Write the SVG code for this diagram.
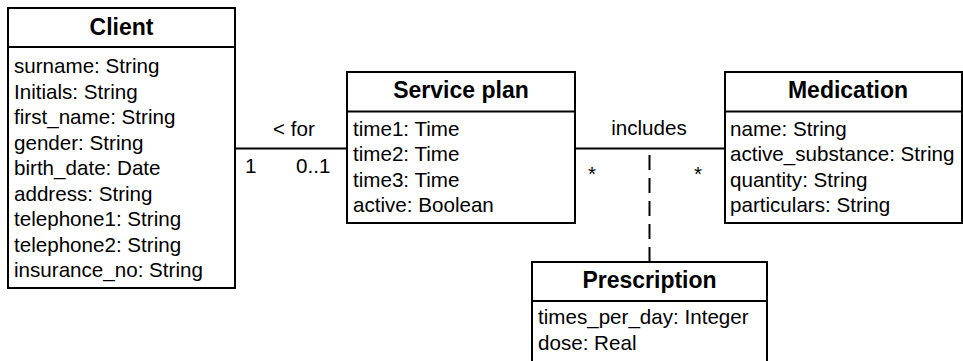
<svg xmlns="http://www.w3.org/2000/svg" width="963" height="361" viewBox="0 0 963 361">
<style>
.box{fill:#fff;stroke:#000;stroke-width:2}
.div{stroke:#000;stroke-width:2}
.t{font-family:"Liberation Sans",Arial,sans-serif;font-size:23px;font-weight:bold;text-anchor:middle;fill:#000}
.a{font-family:"Liberation Sans",Arial,sans-serif;font-size:20.6px;fill:#000}
.c{stroke:#000;stroke-width:2;fill:none}
.d{stroke:#000;stroke-width:2;fill:none;stroke-dasharray:15 8}
.m{text-anchor:middle}
</style>
<rect width="963" height="361" fill="#fff"/>
<g id="connectors">
<line class="c" x1="235" y1="148.5" x2="347" y2="148.5"/>
<line class="c" x1="575" y1="148.5" x2="725" y2="148.5"/>
<line class="d" x1="649.5" y1="262" x2="649.5" y2="148.5"/>
<text class="a m" x="294" y="136">&lt; for</text>
<text class="a" x="245" y="173">1</text>
<text class="a" x="296" y="173">0..1</text>
<text class="a m" x="649" y="135">includes</text>
<text class="a" x="588" y="181">*</text>
<text class="a" x="694" y="181">*</text>
</g>
<g id="client">
<rect class="box" x="8" y="8" width="227" height="280"/>
<line class="div" x1="8" y1="47" x2="235" y2="47"/>
<text class="t" x="121.5" y="35">Client</text>
<text class="a" x="14" y="73">surname: String</text>
<text class="a" x="14" y="98.5">Initials: String</text>
<text class="a" x="14" y="124">first_name: String</text>
<text class="a" x="14" y="149.5">gender: String</text>
<text class="a" x="14" y="175">birth_date: Date</text>
<text class="a" x="14" y="200.5">address: String</text>
<text class="a" x="14" y="226">telephone1: String</text>
<text class="a" x="14" y="251.5">telephone2: String</text>
<text class="a" x="14" y="277">insurance_no: String</text>
</g>
<g id="service-plan">
<rect class="box" x="347" y="72" width="228" height="151"/>
<line class="div" x1="347" y1="111.5" x2="575" y2="111.5"/>
<text class="t" x="461" y="98">Service plan</text>
<text class="a" x="353" y="136">time1: Time</text>
<text class="a" x="353" y="161">time2: Time</text>
<text class="a" x="353" y="186.5">time3: Time</text>
<text class="a" x="353" y="212">active: Boolean</text>
</g>
<g id="medication">
<rect class="box" x="725" y="72" width="237" height="151"/>
<line class="div" x1="725" y1="111.5" x2="962" y2="111.5"/>
<text class="t" x="848" y="98">Medication</text>
<text class="a" x="730" y="136">name: String</text>
<text class="a" x="730" y="161">active_substance: String</text>
<text class="a" x="730" y="186.5">quantity: String</text>
<text class="a" x="730" y="212">particulars: String</text>
</g>
<g id="prescription">
<rect class="box" x="532" y="262" width="235" height="110"/>
<line class="div" x1="532" y1="301" x2="767" y2="301"/>
<text class="t" x="649.5" y="288">Prescription</text>
<text class="a" x="538" y="324">times_per_day: Integer</text>
<text class="a" x="538" y="350">dose: Real</text>
</g>
</svg>
